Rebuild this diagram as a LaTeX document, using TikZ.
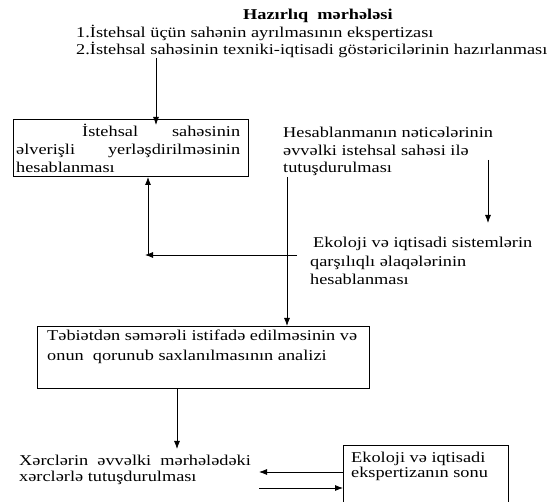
\documentclass[tikz,border=0pt]{standalone}
\usepackage{fontspec}
\setmainfont[FakeStretch=1.22]{Liberation Serif}
\usetikzlibrary{arrows.meta}
\begin{document}
\begin{tikzpicture}[x=1pt,y=1pt,
  txt/.style={inner sep=0pt,anchor=base west,align=left,font=\fontsize{15}{18}\selectfont},
  boxstyle/.style={draw,line width=0.8pt,inner sep=0pt,anchor=north west},
  conn/.style={line width=0.8pt,-{Latex[length=8pt,width=6pt]}},
  plain/.style={line width=0.8pt}]
\useasboundingbox (0,0) rectangle (549,-502);
% title and preparation list (base = last line)
\node[txt,font=\fontsize{15}{18}\selectfont\bfseries] (title) at (243,-20) {Hazırlıq\ \ mərhələsi};
\node[txt,font=\fontsize{15}{17}\selectfont] (prep) at (76,-55) {1.İstehsal üçün sahənin ayrılmasının ekspertizası\\2.İstehsal sahəsinin texniki-iqtisadi göstəricilərinin hazırlanması};
% boxes
\node[boxstyle,minimum width=235pt,minimum height=57pt] (box1) at (13,-119) {};
\node[boxstyle,minimum width=332pt,minimum height=62pt] (box2) at (37,-326) {};
\node[boxstyle,minimum width=165pt,minimum height=70pt] (box3) at (343,-445) {};
% texts
\node[txt,font=\fontsize{15}{18}\selectfont] (t1) at (16,-173) {\hbox to 224pt{\hspace{66pt}İstehsal\hfill sahəsinin}\\\hbox to 224pt{əlverişli\hfill yerləşdirilməsinin}\\hesablanması};
\node[txt,font=\fontsize{15}{17.5}\selectfont] (t2) at (283,-173) {Hesablanmanın nəticələrinin\\əvvəlki istehsal sahəsi ilə\\tutuşdurulması};
\node[txt,font=\fontsize{15}{18.5}\selectfont] (t3) at (310,-285) {\hspace{3pt}Ekoloji və iqtisadi sistemlərin\\qarşılıqlı əlaqələrinin\\hesablanması};
\node[txt,font=\fontsize{15}{20}\selectfont] (t4) at (47,-361) {Təbiətdən səmərəli istifadə edilməsinin və\\onun\ \ qorunub saxlanılmasının analizi};
\node[txt,font=\fontsize{15}{17}\selectfont] (t5) at (19,-482) {Xərclərin\ \ əvvəlki\ \ mərhələdəki\\xərclərlə tutuşdurulması};
\node[txt,font=\fontsize{15}{16}\selectfont] (t6) at (351,-478) {Ekoloji və iqtisadi\\ekspertizanın sonu};
% connector end points
\coordinate (a1s) at (156,-58);
\coordinate (a1e) at (156,-125);
\coordinate (h0) at (297,-255);
\coordinate (h1) at (145,-255);
\coordinate (v0) at (148,-255);
\coordinate (v1) at (148,-177);
\coordinate (d0) at (488,-160);
\coordinate (d1) at (488,-223);
\coordinate (l0) at (287,-177);
\coordinate (b6) at (177,-449);
\coordinate (r0) at (259,-472);
\coordinate (r1) at (259,-488);
% connectors
\draw[conn] (a1s) -- (a1e);
\draw[conn] (h0) -- (h1);
\draw[conn] (v0) -- (v1);
\draw[conn] (d0) -- (d1);
\draw[conn] (l0) -- (l0 |- box2.north);
\draw[conn] (box2.south -| b6) -- (b6);
\draw[conn] (box3.west |- r0) -- (r0);
\draw[conn] (r1) -- (box3.west |- r1);
\end{tikzpicture}
\end{document}
